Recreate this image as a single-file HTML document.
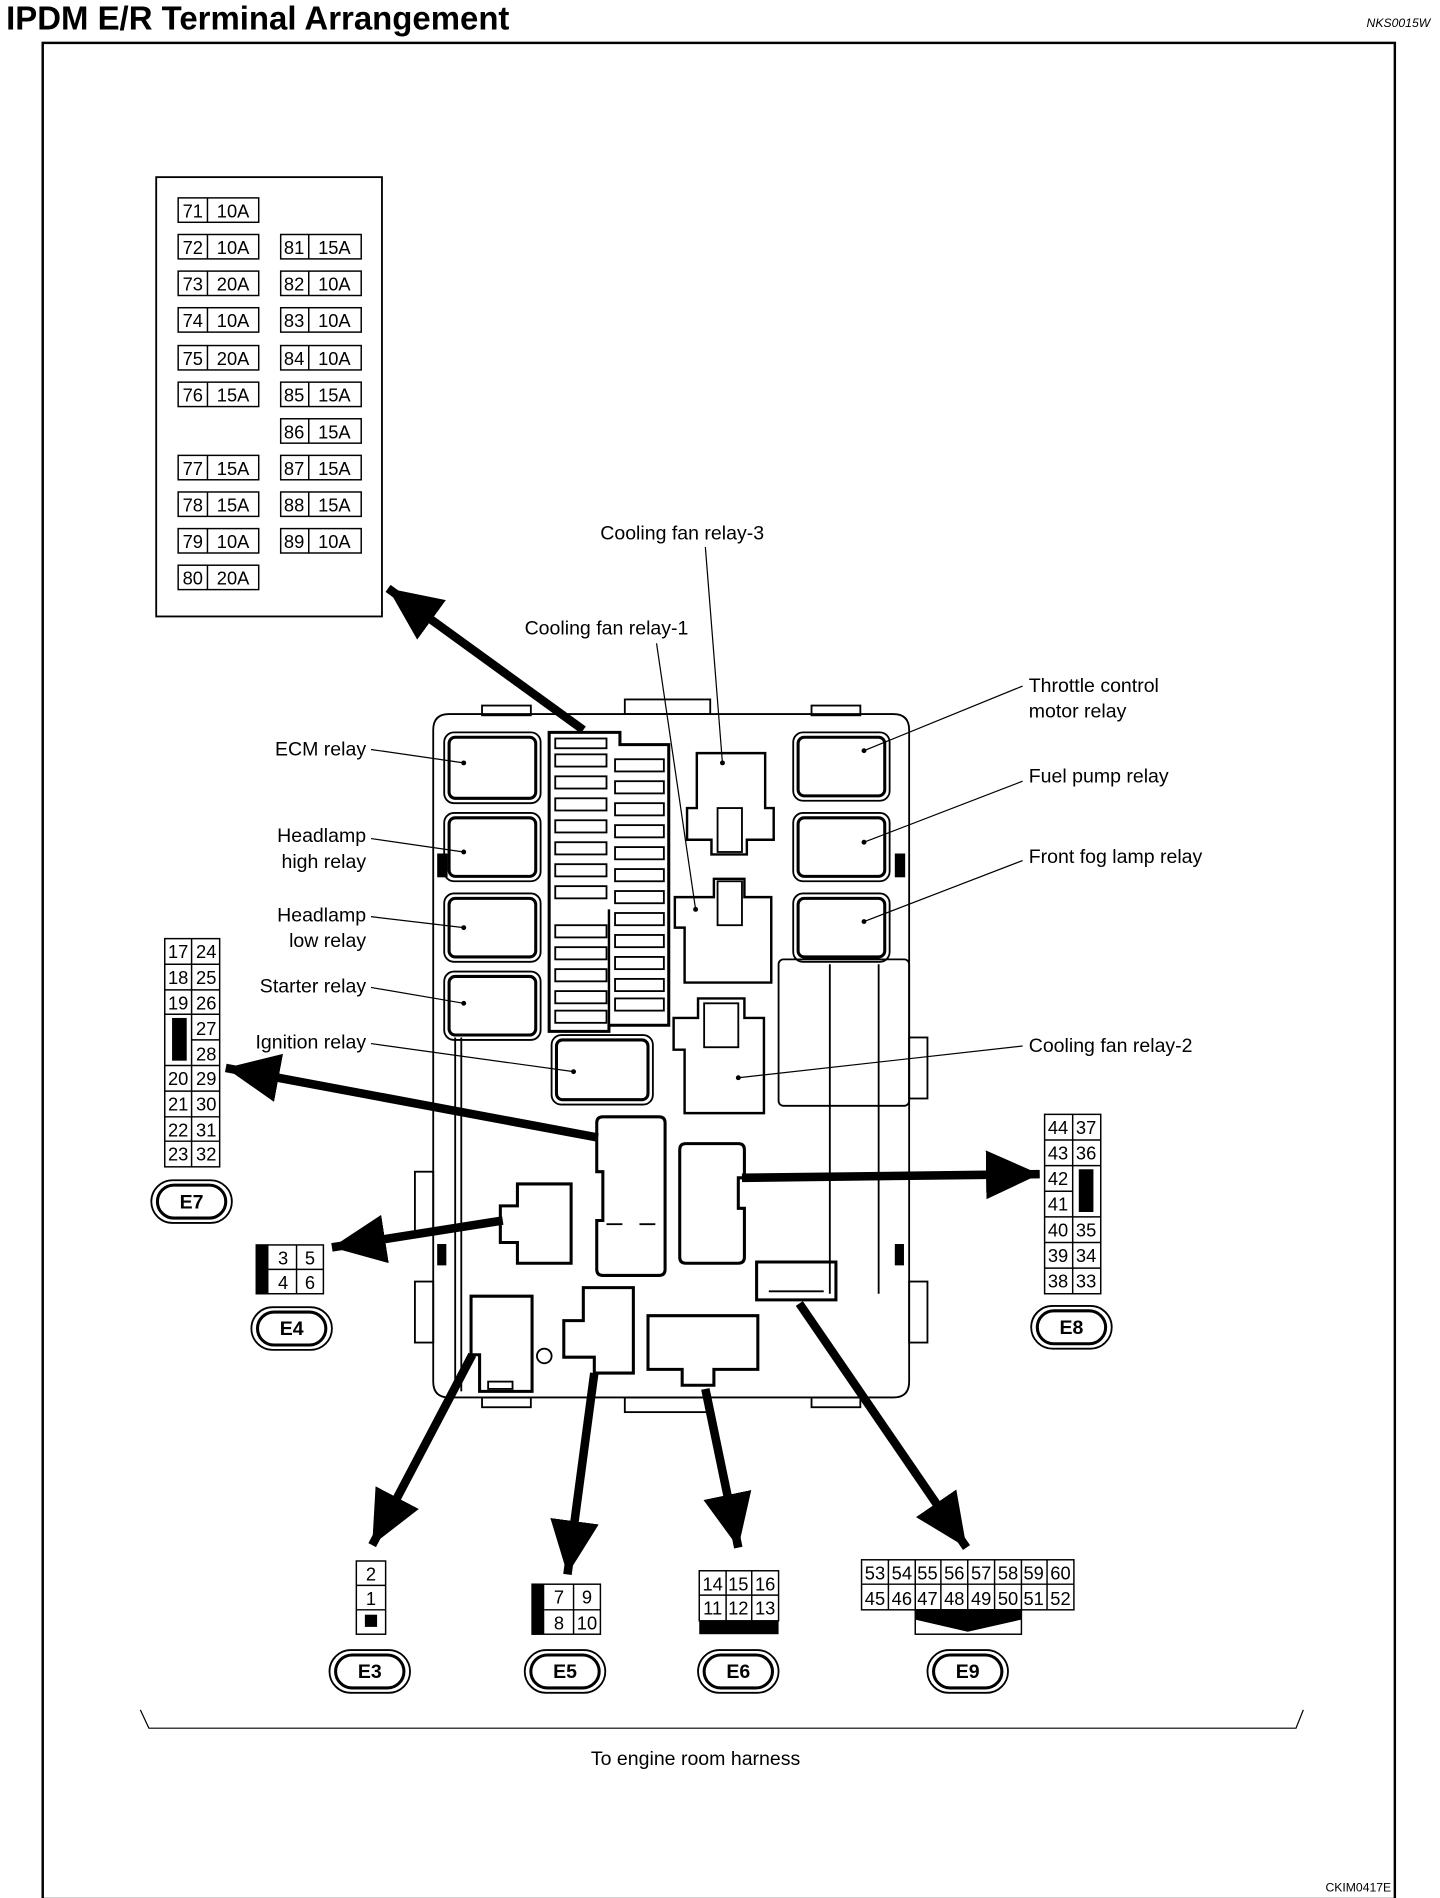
<!DOCTYPE html>
<html><head><meta charset="utf-8"><style>
html,body{margin:0;padding:0;background:#fff;}
svg{display:block;}
text{font-family:"Liberation Sans",Arial,sans-serif;fill:#000;}
</style></head><body>
<svg width="1440" height="1898" viewBox="0 0 1180 1555" xmlns="http://www.w3.org/2000/svg">
<defs>
<marker id="ah" markerUnits="userSpaceOnUse" markerWidth="60" markerHeight="60" refX="44" refY="0" viewBox="0 -30 60 60" orient="auto">
<path d="M0,-20 L44,0 L0,20 Z" fill="#000"/>
</marker>
</defs>
<text x="5" y="24" font-size="27" font-weight="bold">IPDM E/R Terminal Arrangement</text>
<text x="1172" y="22" font-size="10" font-style="italic" text-anchor="end">NKS0015W</text>
<rect x="35" y="35" width="1108" height="1521" fill="none" stroke="#000" stroke-width="2"/>
<text x="1140" y="1550" font-size="10" text-anchor="end">CKIM0417E</text>

<!-- fuse table -->
<rect x="128" y="145" width="185" height="360" fill="none" stroke="#000" stroke-width="1.5"/>
<g fill="none" stroke="#000" stroke-width="1.2">
<rect x="146" y="162" width="66" height="20"/><line x1="170" y1="162" x2="170" y2="182"/>
<rect x="146" y="192" width="66" height="20"/><line x1="170" y1="192" x2="170" y2="212"/>
<rect x="146" y="222" width="66" height="20"/><line x1="170" y1="222" x2="170" y2="242"/>
<rect x="146" y="252" width="66" height="20"/><line x1="170" y1="252" x2="170" y2="272"/>
<rect x="146" y="283" width="66" height="20"/><line x1="170" y1="283" x2="170" y2="303"/>
<rect x="146" y="313" width="66" height="20"/><line x1="170" y1="313" x2="170" y2="333"/>
<rect x="146" y="373" width="66" height="20"/><line x1="170" y1="373" x2="170" y2="393"/>
<rect x="146" y="403" width="66" height="20"/><line x1="170" y1="403" x2="170" y2="423"/>
<rect x="146" y="433" width="66" height="20"/><line x1="170" y1="433" x2="170" y2="453"/>
<rect x="146" y="463" width="66" height="20"/><line x1="170" y1="463" x2="170" y2="483"/>
<rect x="230" y="192" width="66" height="20"/><line x1="253" y1="192" x2="253" y2="212"/>
<rect x="230" y="222" width="66" height="20"/><line x1="253" y1="222" x2="253" y2="242"/>
<rect x="230" y="252" width="66" height="20"/><line x1="253" y1="252" x2="253" y2="272"/>
<rect x="230" y="283" width="66" height="20"/><line x1="253" y1="283" x2="253" y2="303"/>
<rect x="230" y="313" width="66" height="20"/><line x1="253" y1="313" x2="253" y2="333"/>
<rect x="230" y="343" width="66" height="20"/><line x1="253" y1="343" x2="253" y2="363"/>
<rect x="230" y="373" width="66" height="20"/><line x1="253" y1="373" x2="253" y2="393"/>
<rect x="230" y="403" width="66" height="20"/><line x1="253" y1="403" x2="253" y2="423"/>
<rect x="230" y="433" width="66" height="20"/><line x1="253" y1="433" x2="253" y2="453"/>
</g>
<g font-size="15" text-anchor="middle">
<text x="158" y="178">71</text><text x="191" y="178">10A</text>
<text x="158" y="208">72</text><text x="191" y="208">10A</text>
<text x="158" y="238">73</text><text x="191" y="238">20A</text>
<text x="158" y="268">74</text><text x="191" y="268">10A</text>
<text x="158" y="299">75</text><text x="191" y="299">20A</text>
<text x="158" y="329">76</text><text x="191" y="329">15A</text>
<text x="158" y="389">77</text><text x="191" y="389">15A</text>
<text x="158" y="419">78</text><text x="191" y="419">15A</text>
<text x="158" y="449">79</text><text x="191" y="449">10A</text>
<text x="158" y="479">80</text><text x="191" y="479">20A</text>
<text x="241" y="208">81</text><text x="274" y="208">15A</text>
<text x="241" y="238">82</text><text x="274" y="238">10A</text>
<text x="241" y="268">83</text><text x="274" y="268">10A</text>
<text x="241" y="299">84</text><text x="274" y="299">10A</text>
<text x="241" y="329">85</text><text x="274" y="329">15A</text>
<text x="241" y="359">86</text><text x="274" y="359">15A</text>
<text x="241" y="389">87</text><text x="274" y="389">15A</text>
<text x="241" y="419">88</text><text x="274" y="419">15A</text>
<text x="241" y="449">89</text><text x="274" y="449">10A</text>
</g>

<!-- main IPDM box -->
<g fill="none" stroke="#000" stroke-width="1.5">
<path d="M368,585 H732 Q745,585 745,598 V1132 Q745,1145 732,1145 H368 Q355,1145 355,1132 V598 Q355,585 368,585 Z"/>
<rect x="395" y="578" width="40" height="8"/><rect x="665" y="578" width="40" height="8"/>
<rect x="512" y="573" width="70" height="12"/>
<rect x="395" y="1145" width="40" height="8"/><rect x="665" y="1145" width="40" height="8"/>
<rect x="512" y="1145" width="70" height="12"/>
<rect x="340" y="960" width="15" height="50"/><rect x="340" y="1050" width="15" height="50"/>
<rect x="745" y="850" width="15" height="50"/><rect x="745" y="1050" width="15" height="50"/>
<line x1="373" y1="850" x2="373" y2="1140"/><line x1="378" y1="850" x2="378" y2="1140"/>
<!-- left relays -->
<rect x="364" y="600" width="79" height="58" rx="8"/><rect x="368" y="604" width="71" height="50" rx="5" stroke-width="2.5"/>
<rect x="364" y="666" width="79" height="56" rx="8"/><rect x="368" y="670" width="71" height="48" rx="5" stroke-width="2.5"/>
<rect x="364" y="732" width="79" height="56" rx="8"/><rect x="368" y="736" width="71" height="48" rx="5" stroke-width="2.5"/>
<rect x="364" y="796" width="79" height="56" rx="8"/><rect x="368" y="800" width="71" height="48" rx="5" stroke-width="2.5"/>
<rect x="452" y="848" width="83" height="57" rx="8"/><rect x="456" y="852" width="75" height="49" rx="5" stroke-width="2.5"/>
<!-- right relays -->
<rect x="650" y="600" width="79" height="56" rx="8"/><rect x="654" y="604" width="71" height="48" rx="5" stroke-width="2.5"/>
<rect x="650" y="666" width="79" height="56" rx="8"/><rect x="654" y="670" width="71" height="48" rx="5" stroke-width="2.5"/>
<rect x="650" y="732" width="79" height="56" rx="8"/><rect x="654" y="736" width="71" height="48" rx="5" stroke-width="2.5"/>
<rect x="638" y="786" width="107" height="120" rx="4"/>
<line x1="680" y1="790" x2="680" y2="1060"/><line x1="720" y1="790" x2="720" y2="1060"/>
<!-- fuse block -->
<path d="M450,600 H508 V610 H548 V840 H499 V845 H450 Z" stroke-width="2.5"/>
<rect x="455" y="605" width="42" height="8"/>
<rect x="455" y="618" width="42" height="10"/><rect x="455" y="636" width="42" height="10"/>
<rect x="455" y="654" width="42" height="10"/><rect x="455" y="672" width="42" height="10"/>
<rect x="455" y="690" width="42" height="10"/><rect x="455" y="708" width="42" height="10"/>
<rect x="455" y="726" width="42" height="10"/><rect x="455" y="758" width="42" height="10"/>
<rect x="455" y="776" width="42" height="10"/><rect x="455" y="794" width="42" height="10"/>
<rect x="455" y="812" width="42" height="10"/><rect x="455" y="828" width="42" height="10"/>
<rect x="504" y="622" width="40" height="10"/><rect x="504" y="640" width="40" height="10"/>
<rect x="504" y="658" width="40" height="10"/><rect x="504" y="676" width="40" height="10"/>
<rect x="504" y="694" width="40" height="10"/><rect x="504" y="712" width="40" height="10"/>
<rect x="504" y="730" width="40" height="10"/><rect x="504" y="748" width="40" height="10"/>
<rect x="504" y="766" width="40" height="10"/><rect x="504" y="784" width="40" height="10"/>
<rect x="504" y="802" width="40" height="10"/><rect x="504" y="818" width="40" height="10"/>
<line x1="499" y1="745" x2="499" y2="840" stroke-width="2"/>
<!-- cooling fan relays -->
<path d="M571,617 H627 V662 H634 V688 H612 V700 H583 V688 H563 V662 H571 Z" stroke-width="2"/>
<rect x="588" y="662" width="20" height="36"/>
<path d="M553,735 H585 V720 H610 V735 H632 V805 H561 V760 H553 Z" stroke-width="2"/>
<rect x="588" y="722" width="20" height="36"/>
<path d="M552,834 H572 V818 H610 V834 H626 V912 H561 V860 H552 Z" stroke-width="2"/>
<rect x="577" y="822" width="28" height="36"/>
<!-- connectors -->
<path d="M494,915 H540 Q545,915 545,920 V1040 Q545,1045 540,1045 H494 Q489,1045 489,1040 V1000 H494 V960 H489 V920 Q489,915 494,915 Z" stroke-width="2.5"/>
<line x1="497" y1="1003" x2="510" y2="1003"/><line x1="524" y1="1003" x2="537" y2="1003"/>
<path d="M562,937 H605 Q610,937 610,942 V965 H605 V990 H610 V1030 Q610,1035 605,1035 H562 Q557,1035 557,1030 V942 Q557,937 562,937 Z" stroke-width="2.5"/>
<path d="M424,970 H468 V1035 H424 V1018 H410 V988 H424 Z" stroke-width="2.5"/>
<path d="M386,1062 H436 V1140 H393 V1110 H386 Z" stroke-width="2.5"/>
<rect x="400" y="1132" width="20" height="6"/>
<circle cx="446" cy="1111" r="6"/>
<path d="M478,1055 H519 V1125 H487 V1112 H462 V1082 H478 Z" stroke-width="2.5"/>
<path d="M531,1078 H621 V1122 H585 V1135 H559 V1122 H531 Z" stroke-width="2.5"/>
<path d="M620,1034 H685 V1065 H620 Z" stroke-width="2.5"/>
<line x1="630" y1="1058" x2="675" y2="1058"/>
<rect x="359" y="700" width="7" height="18" fill="#000"/><rect x="734" y="700" width="7" height="18" fill="#000"/>
<rect x="359" y="1020" width="6" height="16" fill="#000"/><rect x="734" y="1020" width="6" height="16" fill="#000"/>
</g>

<!-- thick arrows -->
<g stroke="#000" stroke-width="7" marker-end="url(#ah)" fill="none">
<line x1="478" y1="598" x2="318" y2="482"/>
<line x1="490" y1="932" x2="185" y2="875"/>
<line x1="412" y1="1000" x2="272" y2="1022"/>
<line x1="608" y1="965" x2="852" y2="962"/>
<line x1="387" y1="1110" x2="305" y2="1266"/>
<line x1="487" y1="1125" x2="465" y2="1290"/>
<line x1="578" y1="1138" x2="605" y2="1268"/>
<line x1="655" y1="1068" x2="792" y2="1268"/>
</g>

<!-- leader lines -->
<g stroke="#000" stroke-width="1" fill="none">
<line x1="578" y1="448" x2="592" y2="625"/>
<line x1="538" y1="527" x2="570" y2="745"/>
<line x1="838" y1="562" x2="708" y2="615"/>
<line x1="838" y1="640" x2="708" y2="690"/>
<line x1="838" y1="705" x2="708" y2="755"/>
<line x1="838" y1="857" x2="605" y2="883"/>
<line x1="304" y1="614" x2="380" y2="625"/>
<line x1="304" y1="687" x2="380" y2="698"/>
<line x1="304" y1="751" x2="380" y2="760"/>
<line x1="304" y1="809" x2="380" y2="822"/>
<line x1="304" y1="855" x2="470" y2="878"/>
</g>
<g fill="#000">
<circle cx="592" cy="625" r="2"/><circle cx="570" cy="745" r="2"/><circle cx="708" cy="615" r="2"/>
<circle cx="708" cy="690" r="2"/><circle cx="708" cy="755" r="2"/><circle cx="605" cy="883" r="2"/>
<circle cx="380" cy="625" r="2"/><circle cx="380" cy="698" r="2"/><circle cx="380" cy="760" r="2"/>
<circle cx="380" cy="822" r="2"/><circle cx="470" cy="878" r="2"/>
</g>
<g font-size="16">
<text x="559" y="442" text-anchor="middle">Cooling fan relay-3</text>
<text x="497" y="520" text-anchor="middle">Cooling fan relay-1</text>
<text x="843" y="567">Throttle control</text>
<text x="843" y="588">motor relay</text>
<text x="843" y="641">Fuel pump relay</text>
<text x="843" y="707">Front fog lamp relay</text>
<text x="843" y="862">Cooling fan relay-2</text>
<text x="300" y="619" text-anchor="end">ECM relay</text>
<text x="300" y="690" text-anchor="end">Headlamp</text>
<text x="300" y="711" text-anchor="end">high relay</text>
<text x="300" y="755" text-anchor="end">Headlamp</text>
<text x="300" y="776" text-anchor="end">low relay</text>
<text x="300" y="813" text-anchor="end">Starter relay</text>
<text x="300" y="859" text-anchor="end">Ignition relay</text>
<text x="570" y="1446" text-anchor="middle">To engine room harness</text>
</g>

<!-- E7 table -->
<g fill="none" stroke="#000" stroke-width="1.2">
<rect x="135" y="769" width="45" height="187"/>
<line x1="157" y1="769" x2="157" y2="956"/>
<line x1="135" y1="790" x2="180" y2="790"/><line x1="135" y1="811" x2="180" y2="811"/>
<line x1="135" y1="831" x2="180" y2="831"/><line x1="157" y1="852" x2="180" y2="852"/>
<line x1="135" y1="873" x2="180" y2="873"/><line x1="135" y1="894" x2="180" y2="894"/>
<line x1="135" y1="915" x2="180" y2="915"/><line x1="135" y1="935" x2="180" y2="935"/>
</g>
<rect x="141" y="834" width="12" height="35" fill="#000"/>
<g font-size="15" text-anchor="middle">
<text x="146" y="785">17</text><text x="169" y="785">24</text>
<text x="146" y="806">18</text><text x="169" y="806">25</text>
<text x="146" y="827">19</text><text x="169" y="827">26</text>
<text x="169" y="848">27</text><text x="169" y="869">28</text>
<text x="146" y="889">20</text><text x="169" y="889">29</text>
<text x="146" y="910">21</text><text x="169" y="910">30</text>
<text x="146" y="931">22</text><text x="169" y="931">31</text>
<text x="146" y="951">23</text><text x="169" y="951">32</text>
</g>

<!-- E4 table -->
<g fill="none" stroke="#000" stroke-width="1.2">
<rect x="210" y="1020" width="55" height="40"/>
<line x1="243" y1="1020" x2="243" y2="1060"/><line x1="220" y1="1040" x2="265" y2="1040"/>
</g>
<rect x="210" y="1020" width="10" height="40" fill="#000"/>
<g font-size="15" text-anchor="middle">
<text x="232" y="1036">3</text><text x="254" y="1036">5</text>
<text x="232" y="1056">4</text><text x="254" y="1056">6</text>
</g>

<!-- E8 table -->
<g fill="none" stroke="#000" stroke-width="1.2">
<rect x="856" y="913" width="46" height="147"/>
<line x1="879" y1="913" x2="879" y2="1060"/>
<line x1="856" y1="934" x2="902" y2="934"/><line x1="856" y1="955" x2="902" y2="955"/>
<line x1="856" y1="976" x2="879" y2="976"/>
<line x1="856" y1="997" x2="902" y2="997"/><line x1="856" y1="1018" x2="902" y2="1018"/>
<line x1="856" y1="1039" x2="902" y2="1039"/>
</g>
<rect x="884" y="958" width="12" height="35" fill="#000"/>
<g font-size="15" text-anchor="middle">
<text x="867" y="929">44</text><text x="890" y="929">37</text>
<text x="867" y="950">43</text><text x="890" y="950">36</text>
<text x="867" y="971">42</text><text x="867" y="992">41</text>
<text x="867" y="1013">40</text><text x="890" y="1013">35</text>
<text x="867" y="1034">39</text><text x="890" y="1034">34</text>
<text x="867" y="1055">38</text><text x="890" y="1055">33</text>
</g>

<!-- E3 -->
<g fill="none" stroke="#000" stroke-width="1.2">
<rect x="292" y="1279" width="24" height="60"/>
<line x1="292" y1="1299" x2="316" y2="1299"/><line x1="292" y1="1319" x2="316" y2="1319"/>
</g>
<rect x="299" y="1323" width="10" height="10" fill="#000"/>
<g font-size="15" text-anchor="middle"><text x="304" y="1295">2</text><text x="304" y="1315">1</text></g>

<!-- E5 -->
<g fill="none" stroke="#000" stroke-width="1.2">
<rect x="436" y="1298" width="56" height="41"/>
<line x1="470" y1="1298" x2="470" y2="1339"/><line x1="446" y1="1319" x2="492" y2="1319"/>
</g>
<rect x="436" y="1298" width="10" height="41" fill="#000"/>
<g font-size="15" text-anchor="middle">
<text x="458" y="1314">7</text><text x="481" y="1314">9</text>
<text x="458" y="1335">8</text><text x="481" y="1335">10</text>
</g>

<!-- E6 -->
<g fill="none" stroke="#000" stroke-width="1.2">
<rect x="573" y="1287" width="65" height="41"/>
<line x1="595" y1="1287" x2="595" y2="1328"/><line x1="616" y1="1287" x2="616" y2="1328"/>
<line x1="573" y1="1307" x2="638" y2="1307"/>
</g>
<rect x="573" y="1328" width="65" height="11" fill="#000"/>
<g font-size="15" text-anchor="middle">
<text x="584" y="1303">14</text><text x="605" y="1303">15</text><text x="627" y="1303">16</text>
<text x="584" y="1323">11</text><text x="605" y="1323">12</text><text x="627" y="1323">13</text>
</g>

<!-- E9 -->
<g fill="none" stroke="#000" stroke-width="1.2">
<rect x="706" y="1278" width="174" height="41"/>
<line x1="706" y1="1298" x2="880" y2="1298"/>
<line x1="728" y1="1278" x2="728" y2="1319"/><line x1="750" y1="1278" x2="750" y2="1319"/>
<line x1="771" y1="1278" x2="771" y2="1319"/><line x1="793" y1="1278" x2="793" y2="1319"/>
<line x1="815" y1="1278" x2="815" y2="1319"/><line x1="837" y1="1278" x2="837" y2="1319"/>
<line x1="858" y1="1278" x2="858" y2="1319"/>
<rect x="750" y="1319" width="87" height="20"/>
</g>
<path d="M750,1319 H837 V1327 L793,1337 L750,1327 Z" fill="#000"/>
<g font-size="15" text-anchor="middle">
<text x="717" y="1294">53</text><text x="739" y="1294">54</text><text x="760" y="1294">55</text><text x="782" y="1294">56</text>
<text x="804" y="1294">57</text><text x="826" y="1294">58</text><text x="847" y="1294">59</text><text x="869" y="1294">60</text>
<text x="717" y="1315">45</text><text x="739" y="1315">46</text><text x="760" y="1315">47</text><text x="782" y="1315">48</text>
<text x="804" y="1315">49</text><text x="826" y="1315">50</text><text x="847" y="1315">51</text><text x="869" y="1315">52</text>
</g>

<!-- connector name ovals -->
<g fill="none" stroke="#000">
<rect x="124" y="967" width="66" height="35" rx="17.5" stroke-width="1.5"/><rect x="129" y="971" width="56" height="27" rx="13.5" stroke-width="2.5"/>
<rect x="206" y="1071" width="66" height="35" rx="17.5" stroke-width="1.5"/><rect x="211" y="1075" width="56" height="27" rx="13.5" stroke-width="2.5"/>
<rect x="845" y="1070" width="66" height="35" rx="17.5" stroke-width="1.5"/><rect x="850" y="1074" width="56" height="27" rx="13.5" stroke-width="2.5"/>
<rect x="270" y="1352" width="66" height="35" rx="17.5" stroke-width="1.5"/><rect x="275" y="1356" width="56" height="27" rx="13.5" stroke-width="2.5"/>
<rect x="430" y="1352" width="66" height="35" rx="17.5" stroke-width="1.5"/><rect x="435" y="1356" width="56" height="27" rx="13.5" stroke-width="2.5"/>
<rect x="572" y="1352" width="66" height="35" rx="17.5" stroke-width="1.5"/><rect x="577" y="1356" width="56" height="27" rx="13.5" stroke-width="2.5"/>
<rect x="760" y="1352" width="66" height="35" rx="17.5" stroke-width="1.5"/><rect x="765" y="1356" width="56" height="27" rx="13.5" stroke-width="2.5"/>
</g>
<g font-size="16" font-weight="bold" text-anchor="middle">
<text x="157" y="990">E7</text><text x="239" y="1094">E4</text><text x="878" y="1093">E8</text>
<text x="303" y="1375">E3</text><text x="463" y="1375">E5</text><text x="605" y="1375">E6</text><text x="793" y="1375">E9</text>
</g>

<!-- bracket -->
<path d="M115,1401 L122,1416 H1062 L1068,1401" fill="none" stroke="#000" stroke-width="1"/>
</svg>
</body></html>
